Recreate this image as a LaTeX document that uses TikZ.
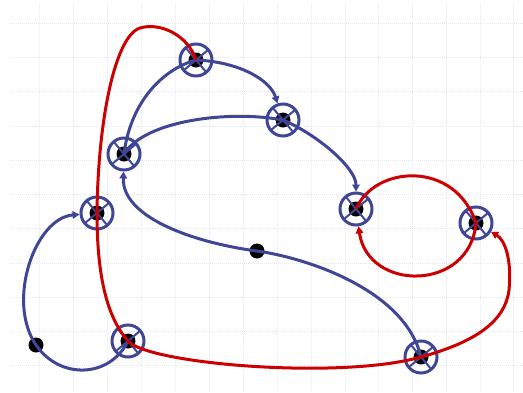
\documentclass[tikz,border=0pt]{standalone}
\usepackage{xcolor}
\usepackage{tikz}
\usetikzlibrary{arrows.meta}

\definecolor{knotblue}{RGB}{64,70,150}
\definecolor{knotred}{RGB}{204,0,0}
\definecolor{gridblue}{RGB}{226,231,247}

\tikzset{
  xnode/.style={circle, draw=knotblue, line width=3pt, minimum size=32pt, inner sep=0pt,
    path picture={
      \fill[black] (path picture bounding box.center) circle (7.5pt);
      \draw[knotblue, line width=2pt]
        ([shift={(40:20pt)}]path picture bounding box.center) -- ([shift={(220:20pt)}]path picture bounding box.center)
        ([shift={(130:20pt)}]path picture bounding box.center) -- ([shift={(310:20pt)}]path picture bounding box.center);
    }},
  bdot/.style={circle, fill=black, minimum size=15pt, inner sep=0pt},
  blueline/.style={knotblue, line width=3pt},
  redline/.style={knotred, line width=3pt},
  tip/.style={-{Triangle[length=7pt,width=7.5pt]}}
}

\begin{document}
\begin{tikzpicture}[x=1pt, y=-1pt]
  \useasboundingbox (0,0) rectangle (523,392);
  % grid paper
  \foreach \gy in {23,57,91,126,160,194,228,263,297,331,365}
    \draw[gridblue, line width=1pt, densely dotted] (10,\gy) -- (523,\gy);
  \foreach \gx in {39,73,107,141,175,209,243,277,311,345,378,412,446,480,513}
    \draw[gridblue, line width=1pt, densely dotted] (\gx,4) -- (\gx,392);

  % crossings and marked points
  \node[xnode] (A) at (196,60) {};
  \node[xnode] (B) at (283,120) {};
  \node[xnode] (C) at (124,154) {};
  \node[xnode] (D) at (97,213) {};
  \node[xnode] (E) at (356,209) {};
  \node[xnode] (F) at (476,223) {};
  \node[xnode] (G) at (128,341) {};
  \node[xnode] (H) at (421,357) {};
  \node[bdot] (mid) at (257,251) {};
  \node[bdot] (left) at (36,345) {};

  % blue strands
  \draw[blueline, tip] (A.center) .. controls (240,62) and (270,80) .. (B);
  \draw[blueline, tip] (B.center) .. controls (318,135) and (356,168) .. (E);
  \draw[blueline] (C.center) .. controls (145,120) and (230,110) .. (B.center);
  \draw[blueline] (A.center) .. controls (160,70) and (130,105) .. (C.center);
  \draw[blueline, tip] (H.center) .. controls (405,290) and (307,258) .. (mid.center)
    .. controls (202,244) and (122,220) .. (C);
  \draw[blueline, tip] (G.center) .. controls (110,378) and (60,380) .. (left.center)
    .. controls (6,301) and (35,218) .. (D);

  % red strands
  \draw[redline, tip] (A.center) .. controls (188,35) and (160,22) .. (140,28)
    .. controls (115,36) and (98,120) .. (D.center)
    .. controls (97,270) and (105,315) .. (G.center)
    .. controls (148,364) and (340,380) .. (H.center)
    .. controls (475,342) and (505,322) .. (509,290)
    .. controls (512,260) and (505,240) .. (F);
  \draw[redline, tip] (E.center) .. controls (375,165) and (455,160) .. (F.center)
    .. controls (470,292) and (368,292) .. (E);
\end{tikzpicture}
\end{document}
